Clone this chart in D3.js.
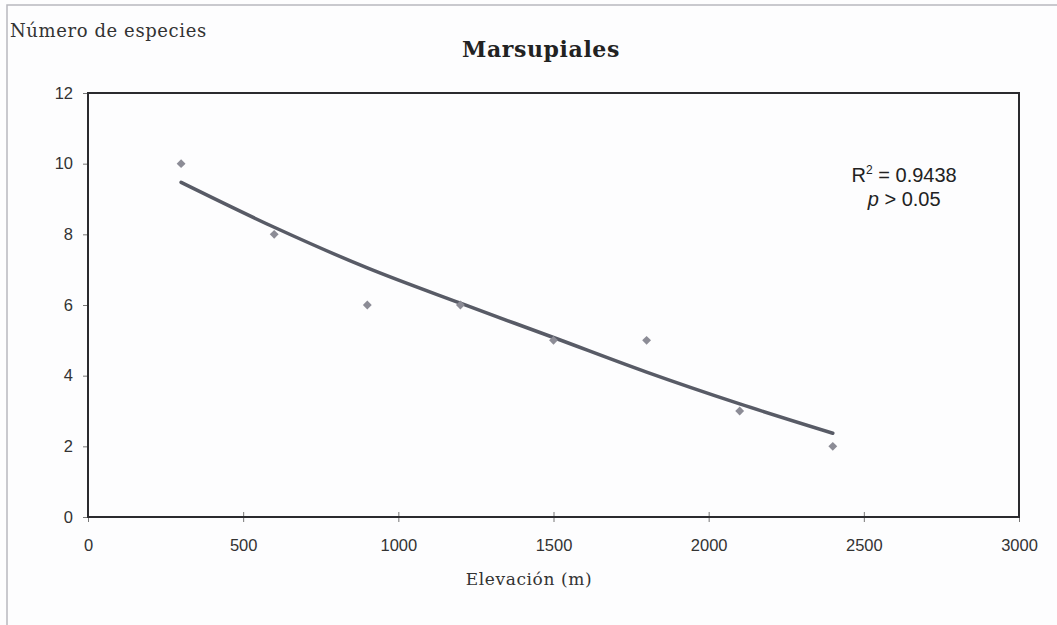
<!DOCTYPE html>
<html>
<head>
<meta charset="utf-8">
<script src="https://cdn.jsdelivr.net/npm/d3@7"></script>
<style>
  html,body{margin:0;padding:0;background:#fdfdfe;}
  svg{display:block;}
</style>
</head>
<body>
<div id="chart"></div>
<script>
// Data
const elevation=[300,600,900,1200,1500,1800,2100,2400];
const species=[10,8,6,6,5,5,3,2];
// fitted trend line, values at each elevation
const trendValues=[9.47,8.2,7.05,6.05,5.08,4.1,3.2,2.37];
const xTicks=[0,500,1000,1500,2000,2500,3000];
const yTicks=[0,2,4,6,8,10,12];

const W=1057,H=625;
const m={top:93,right:38,bottom:108,left:88};
const iw=W-m.left-m.right, ih=H-m.top-m.bottom;

const svg=d3.select('#chart').append('svg').attr('width',W).attr('height',H);

// page frame
svg.append('path').attr('d',`M7,${H} V5 H${W}`)
  .attr('fill','none').attr('stroke','#b8b8be').attr('stroke-width',1.5);

const serif='"DejaVu Serif",serif';
const sans='"Liberation Sans",Arial,sans-serif';

svg.append('text').attr('x',10).attr('y',37)
  .style('font-family',serif).style('font-size','18px').style('letter-spacing','0.6px').attr('fill','#333')
  .text('Número de especies');

svg.append('text').attr('x',541).attr('y',57).attr('text-anchor','middle')
  .style('font-family',serif).style('font-size','22px').style('font-weight','bold').style('letter-spacing','0.6px').attr('fill','#222')
  .text('Marsupiales');

const g=svg.append('g').attr('transform',`translate(${m.left},${m.top})`);
const x=d3.scaleLinear().domain([0,3000]).range([0,iw]);
const y=d3.scaleLinear().domain([0,12]).range([ih,0]);

// axes
const xa=g.append('g').attr('transform',`translate(0,${ih})`)
  .call(d3.axisBottom(x).tickValues(xTicks).tickSize(5).tickPadding(17).tickFormat(d3.format('d')));
const ya=g.append('g')
  .call(d3.axisLeft(y).tickValues(yTicks).tickSize(5).tickPadding(10).tickFormat(d3.format('d')));
[xa,ya].forEach(a=>{
  a.select('.domain').remove();
  a.selectAll('.tick line').attr('stroke','#777').attr('stroke-width',1);
  a.selectAll('text').attr('fill','#333').style('font-family',sans).style('font-size','16.5px');
});
xa.selectAll('.tick line').attr('y1',-5).attr('y2',5);

// plot frame
g.append('rect').attr('x',0).attr('y',0).attr('width',iw).attr('height',ih)
  .attr('fill','none').attr('stroke','#2a2a2e').attr('stroke-width',2);

// trend line
const pts=elevation.map((e,i)=>[e,trendValues[i]]);
g.append('path').datum(pts)
  .attr('d',d3.line().x(d=>x(d[0])).y(d=>y(d[1])).curve(d3.curveMonotoneX))
  .attr('fill','none').attr('stroke','#585b66').attr('stroke-width',3.5).attr('stroke-linecap','round');

// data points
g.selectAll('.pt').data(elevation).enter().append('path')
  .attr('transform',(d,i)=>`translate(${x(d)},${y(species[i])})`)
  .attr('d',d3.symbol().type(d3.symbolDiamond2).size(50))
  .attr('fill','#8c8c96');

// annotation
const ann=g.append('text').attr('text-anchor','middle')
  .style('font-family',sans).style('font-size','20px').attr('fill','#222');
ann.append('tspan').attr('x',x(2630)).attr('y',89).text('R');
ann.append('tspan').attr('dy',-8).style('font-size','12px').text('2');
ann.append('tspan').attr('dy',8).text(' = 0.9438');
const ann2=g.append('text').attr('text-anchor','middle').attr('x',x(2630)).attr('y',113)
  .style('font-family',sans).style('font-size','20px').attr('fill','#222');
ann2.append('tspan').style('font-style','italic').text('p');
ann2.append('tspan').text(' > 0.05');

svg.append('text').attr('x',529).attr('y',585).attr('text-anchor','middle')
  .style('font-family',serif).style('font-size','17px').style('letter-spacing','0.6px').attr('fill','#333')
  .text('Elevación (m)');
</script>
</body>
</html>
